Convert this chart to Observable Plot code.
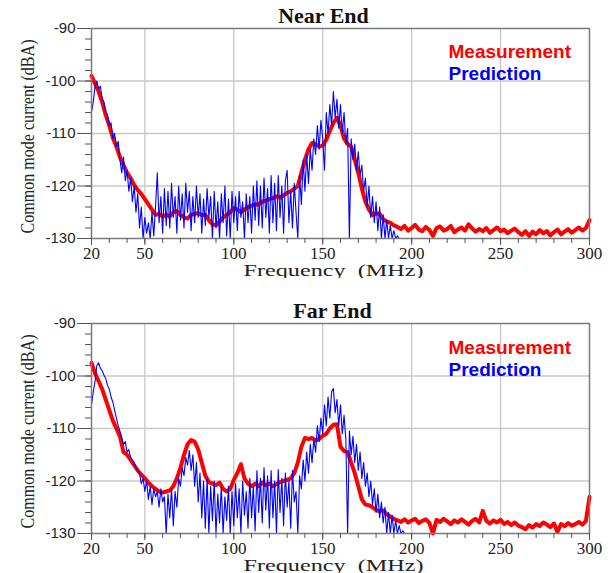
<!DOCTYPE html>
<html>
<head>
<meta charset="utf-8">
<script src="https://cdn.jsdelivr.net/npm/d3@7"></script>
<script src="https://cdn.jsdelivr.net/npm/@observablehq/plot@0.6"></script>
<style>
  html, body { margin: 0; padding: 0; background: #ffffff; }
  #wrap { position: relative; width: 616px; height: 573px; background: #ffffff; overflow: hidden; }
  .panel { position: absolute; left: 0; }
</style>
</head>
<body>
<div id="wrap"></div>
<script>
// ---------- data ----------
const panelTitles = ["Near End", "Far End"];
const seriesNames = ["Measurement", "Prediction"];
const xLabel = "Frequency\u00a0\u00a0(MHz)";
const yLabel = "Common mode current (dBA)";
const xMajorTicks = [20, 50, 100, 150, 200, 250, 300];
const yMajorTicks = [-130, -120, -110, -100, -90];

// measurement sampled every 2 MHz, 20..300
const measFreq = d3.range(20, 301, 2);
const nearMeasDb = [
  -99,-100.5,-102,-104,-106.5,-108.5,-110.8,-112.5,-114.5,-116,
  -117.5,-118.5,-119.8,-120.8,-121.5,-122.5,-123.5,-124.5,-125.5,-125.3,
  -125.8,-125.5,-125.8,-125,-124.8,-125.5,-126,-126.2,-125.5,-125.3,
  -125.2,-125.5,-125.5,-126.5,-127.3,-127.5,-126.8,-126,-125.5,-125,
  -124.2,-124.5,-125,-124.5,-124,-123.8,-123.5,-123.5,-123,-122.8,
  -122.5,-122.3,-122,-122.2,-121.8,-121.3,-121,-120.5,-120,-117.5,
  -115,-113,-111.8,-112,-112.5,-112.3,-111.2,-109.5,-108,-107,
  -108.5,-111,-112,-112.5,-115,-117.5,-120.5,-123,-124.5,-125.5,
  -125.2,-125.3,-126.3,-126.8,-127,-127.5,-127.8,-128.2,-127.6,-128.5,
  -128,-127.4,-128.3,-128.6,-127.8,-128.4,-129.5,-128,-127.7,-128.5,
  -128.2,-127.6,-128.8,-128.3,-127.9,-128.5,-127.3,-128.1,-128.7,-128.2,
  -128.6,-128,-128.9,-128.4,-127.9,-128.6,-128.3,-129,-128.5,-128.1,
  -128.8,-129.3,-128.6,-129.5,-128.7,-129.2,-128.4,-129,-128.6,-129.4,
  -128.8,-128.3,-129.2,-128.7,-128.2,-128.9,-128.4,-127.9,-128.5,-128,
  -126.5
];
const farMeasDb = [
  -97.5,-99.5,-101,-102.5,-104.5,-106.5,-108.5,-110,-111.5,-114.5,
  -115,-116,-117,-118,-118.8,-119.5,-120.3,-121,-121.5,-122,
  -122.2,-122,-121.8,-121,-119.5,-117.5,-115,-113,-112.2,-112.5,
  -114,-116.5,-119,-120.2,-120.5,-120.8,-120.3,-121.5,-122,-121.5,
  -119.8,-118.5,-116.8,-119.5,-120.5,-121,-120.5,-121,-120.3,-120.8,
  -120.5,-121,-120.6,-120.2,-120,-119.8,-119.5,-118.5,-116.5,-113.5,
  -111.8,-112,-111.8,-112.3,-112,-111.4,-111,-110,-109.3,-109.2,
  -113.5,-114.3,-114.5,-116.5,-118.5,-121,-123.5,-124.5,-124.6,-125,
  -125.5,-125.8,-125.6,-126.3,-126.8,-127.2,-127.5,-127.8,-127.3,-127.9,
  -127.5,-127.2,-128,-127.6,-127.3,-128,-130,-127.4,-127.8,-127.2,
  -127.7,-128.2,-127.5,-127.9,-127.3,-127.8,-128.3,-127.6,-127.2,-127.9,
  -125.7,-127.6,-128.1,-127.5,-127.9,-127.4,-128.2,-127.8,-128.4,-127.9,
  -128.5,-128.8,-129.2,-128.4,-128.9,-128.2,-128.6,-127.9,-128.3,-128.8,
  -128.1,-129.7,-128.2,-128.6,-128,-128.5,-128.2,-127.8,-128.3,-127.6,
  -123
];

// prediction sampled every 1 MHz
const nearPredFreq = d3.range(20, 195, 1);
const nearPredDb = [
  -106,-104,-101,-100,-101.5,-101,-103.5,-104,-106,-106.5,
  -108.5,-108,-111,-110,-112.5,-111.5,-115,-117.5,-114.5,-119,
  -117,-121,-118.5,-123,-120,-125,-121.5,-128,-124,-130,
  -126,-129,-127,-130,-125,-129.5,-124,-117.5,-127,-122,
  -129,-120.5,-127.5,-121,-128,-119.5,-126,-122,-129,-120,
  -126.5,-121.5,-128,-119.5,-125,-121,-128.5,-122,-127,-120,
  -126,-121.5,-129,-122.5,-127.5,-120.5,-126,-122,-130,-121,
  -128,-123,-130,-121.5,-127,-120,-129.5,-122.5,-130,-121,
  -127,-122,-128.5,-121,-126,-123,-130,-121.5,-127,-122,
  -129,-120,-126.5,-119,-127.5,-120,-128,-118.5,-126,-120.5,
  -129,-118,-127,-119.5,-128.5,-118,-126,-120,-129,-119,
  -117,-127,-121,-128,-119.5,-125,-130,-118,-123.5,-115,
  -121,-114,-119.5,-113,-117,-111,-114,-108.5,-113,-107.5,
  -111,-117,-106,-110,-104.5,-108.5,-102,-107,-103.5,-109,
  -104.5,-110,-106,-112,-109,-130,-111,-115,-112,-117,
  -113.5,-118,-116,-121,-118.5,-124,-120,-126,-122,-127,
  -123,-128.5,-124,-130,-125.5,-130,-126.5,-130,-127.5,-130,
  -128.5,-130,-129.5,-130,-130
];
const farPredFreq = d3.range(20, 197, 1);
const farPredDb = [
  -105.5,-103,-101,-98,-97.5,-98.5,-99,-99.8,-100.5,-101.8,
  -102.5,-104,-105,-106.5,-108,-109.5,-110.5,-111.8,-113,-112.5,
  -114.5,-114,-115.5,-116,-116.5,-117.5,-118,-118.5,-120.5,-119.5,
  -122,-120,-123.5,-121,-124.5,-121.5,-123,-122,-125,-121.5,
  -124,-123,-130,-122.5,-127,-121.5,-128.5,-122,-125,-119.5,
  -121,-117.5,-119,-115.5,-117,-114.2,-118,-115,-121,-116.5,
  -124,-118.5,-127,-120,-129,-119.5,-130,-121,-127.5,-120,
  -130,-122.5,-128,-121,-130,-123,-127.5,-121,-130,-122,
  -128.5,-120.5,-127,-121.5,-130,-120,-126.5,-122,-129,-119.5,
  -127,-121,-129.5,-118,-126,-119.5,-128,-117.5,-125.5,-119,
  -129,-118,-127,-120,-130,-117.8,-126,-119.5,-128.5,-118.5,
  -125,-120,-129,-118,-124,-122,-130,-119,-121.5,-116,
  -120,-114.5,-118.5,-113,-116.5,-112,-114.5,-109.5,-112.5,-108,
  -111,-105.5,-109.5,-104,-108,-103,-102.4,-107,-104.5,-109.5,
  -105.5,-111,-107.5,-112,-130,-110.5,-115,-111.5,-116.5,-113,
  -118,-114.5,-119.5,-116.5,-121,-118.5,-123,-120,-124.5,-121.5,
  -126,-122.5,-127,-124,-128,-125,-130,-126,-130,-126.5,
  -130,-127.5,-130,-128.5,-130,-129.5,-130
];

// ---------- drawing ----------
const SERIF = "'Liberation Serif', 'Times New Roman', serif";
const SANS = "'Liberation Sans', Arial, sans-serif";
const RED = "#ff0000", BLUE = "#0000ff";

function makePanel(title, measDb, predFreq, predDb, legendDy, titleDx) {
  const meas = measFreq.map((f, i) => ({f, v: measDb[i]}));
  const pred = predFreq.map((f, i) => ({f, v: predDb[i]}));
  const svg = Plot.plot({
    width: 616,
    height: 278,
    marginTop: 28,
    marginBottom: 40,
    marginLeft: 91,
    marginRight: 27,
    style: {background: "white", fontFamily: SERIF, color: "#222"},
    x: {type: "linear", domain: [20, 300], label: null},
    y: {domain: [-130, -90], label: null},
    marks: [
      Plot.gridX(xMajorTicks.slice(1, -1), {stroke: "#c8c8c8", strokeOpacity: 1, strokeWidth: 1.3}),
      Plot.gridY(yMajorTicks.slice(1, -1), {stroke: "#c8c8c8", strokeOpacity: 1, strokeWidth: 1.3}),
      Plot.line(meas, {x: "f", y: "v", stroke: RED, strokeWidth: 4}),
      Plot.line(pred, {x: "f", y: "v", stroke: BLUE, strokeWidth: 1.1}),
      Plot.frame({stroke: "#7a7a7a", strokeWidth: 1.5}),
      Plot.axisX(d3.range(20, 301, 10), {tickSize: 5, tickFormat: () => "", stroke: "#555", label: null}),
      Plot.axisX(xMajorTicks, {tickSize: 7, tickPadding: 1, fontSize: 17, fontFamily: SERIF, stroke: "#555", fill: "#222", label: null}),
      Plot.axisY(d3.range(-130, -89, 2), {tickSize: 6, tickFormat: () => "", stroke: "#555", label: null}),
      Plot.axisY(yMajorTicks, {tickSize: 14, tickPadding: 2, fontSize: 15, fontFamily: SANS, tickFormat: d => String(d), stroke: "#555", fill: "#222", label: null}),
      Plot.text([title], {frameAnchor: "top", dx: titleDx, dy: -6, lineAnchor: "bottom", fontSize: 22, fontWeight: "bold", fontFamily: SERIF, fill: "#111"}),
      Plot.text([seriesNames[0]], {frameAnchor: "top-left", dx: 357, dy: legendDy, textAnchor: "start", lineAnchor: "bottom", fontSize: 19, fontWeight: "bold", fontFamily: SANS, fill: RED}),
      Plot.text([seriesNames[1]], {frameAnchor: "top-left", dx: 357, dy: legendDy + 22, textAnchor: "start", lineAnchor: "bottom", fontSize: 19, fontWeight: "bold", fontFamily: SANS, fill: BLUE}),
      Plot.text([xLabel], {frameAnchor: "bottom", dx: -7, dy: 37, lineAnchor: "bottom", fontSize: 16, fontFamily: SERIF, fill: "#222"}),
      Plot.text([yLabel], {frameAnchor: "left", dx: -64, dy: 3, rotate: -90, textAnchor: "middle", fontSize: 19, fontFamily: SERIF, fill: "#222"})
    ]
  });
  const sel = d3.select(svg).selectAll("text");
  sel.filter(function() { return this.textContent.indexOf("Frequency") === 0; })
    .attr("textLength", 180).attr("lengthAdjust", "spacingAndGlyphs");
  sel.filter(function() { return this.textContent.indexOf("Common") === 0; })
    .attr("textLength", 194).attr("lengthAdjust", "spacingAndGlyphs");
  return svg;
}

const wrap = document.getElementById("wrap");
const p1 = document.createElement("div");
p1.className = "panel"; p1.style.top = "0px";
p1.appendChild(makePanel(panelTitles[0], nearMeasDb, nearPredFreq, nearPredDb, 29, -17));
const p2 = document.createElement("div");
p2.className = "panel"; p2.style.top = "295px";
p2.appendChild(makePanel(panelTitles[1], farMeasDb, farPredFreq, farPredDb, 30, -8));
wrap.appendChild(p1);
wrap.appendChild(p2);
</script>
</body>
</html>
